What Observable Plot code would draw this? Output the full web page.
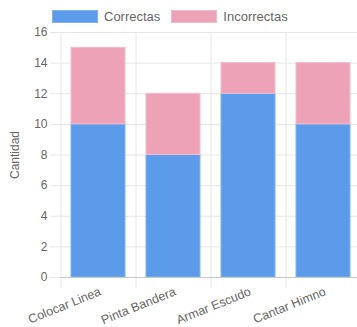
<!DOCTYPE html>
<html><head><meta charset="utf-8">
<script src="https://cdn.jsdelivr.net/npm/d3@7"></script>
<script src="https://cdn.jsdelivr.net/npm/@observablehq/plot@0.6"></script>
<style>
body{margin:0;background:#fff;font-family:"Liberation Sans",Arial,sans-serif;overflow:hidden}
#legend{height:24px;display:flex;align-items:center;padding-left:52px;font-size:13px;color:#666;box-sizing:border-box;padding-top:8px}
.item{display:flex;align-items:center;margin-right:11px}
.sw{width:44px;height:11px;margin-right:6px;border:1px solid}
#chart svg{display:block}
</style></head><body>
<div id="legend"></div>
<div id="chart"></div>
<script>
const categories = ["Colocar Linea", "Pinta Bandera", "Armar Escudo", "Cantar Himno"];
const correctas = [10, 8, 12, 10];
const incorrectas = [5, 4, 2, 4];
const seriesNames = ["Correctas", "Incorrectas"];
const colors = ["#5b9be9", "#eea2b8"];
const borders = ["#7fb2ee", "#f3bccc"];
const yTicks = [0, 2, 4, 6, 8, 10, 12, 14, 16];

const data = [];
categories.forEach((c, i) => {
  data.push({cat: c, series: seriesNames[0], value: correctas[i]});
  data.push({cat: c, series: seriesNames[1], value: incorrectas[i]});
});

const leg = document.getElementById("legend");
seriesNames.forEach((s, i) => {
  const it = document.createElement("div"); it.className = "item";
  const sw = document.createElement("span"); sw.className = "sw";
  sw.style.background = colors[i]; sw.style.borderColor = borders[i];
  const t = document.createElement("span"); t.textContent = s;
  it.append(sw, t); leg.append(it);
});

const W = 357, H = 303;
const xRange = [60, 360];
const step = (xRange[1] - xRange[0]) / categories.length;

const chart = Plot.plot({
  width: W, height: H,
  marginLeft: 60, marginRight: 0, marginTop: 8, marginBottom: 50,
  style: {fontFamily: '"Liberation Sans", Arial, sans-serif', fontSize: "12px", color: "#666", overflow: "visible"},
  x: {domain: categories, range: xRange, paddingInner: 0.28, paddingOuter: 0.14, axis: null},
  y: {domain: [0, 16]},
  color: {domain: seriesNames, range: colors},
  marks: [
    Plot.ruleY(yTicks.slice(1), {y: d => d, stroke: "#e6e6e6"}),
    Plot.ruleX(categories, {x: d => d, dx: -step / 2, stroke: "#e6e6e6", y1: 16, y2: 0, insetBottom: -11}),
    Plot.axisY({ticks: yTicks, tickSize: 10, tickPadding: 3, stroke: "#e6e6e6", fill: "#666", label: "Cantidad", labelAnchor: "center", labelArrow: "none", labelOffset: 50}),
    Plot.barY(data, {x: "cat", y: "value", fill: "series", stroke: d => borders[seriesNames.indexOf(d.series)], strokeWidth: 1}),
    Plot.ruleY([0], {stroke: "#c8c8c8"}),
    Plot.text(categories, {x: d => d, text: d => d, frameAnchor: "bottom", dy: 9, rotate: -22, textAnchor: "end", lineAnchor: "top", fontSize: 12.5, fill: "#666"})
  ]
});
document.getElementById("chart").append(chart);
</script>
</body></html>
